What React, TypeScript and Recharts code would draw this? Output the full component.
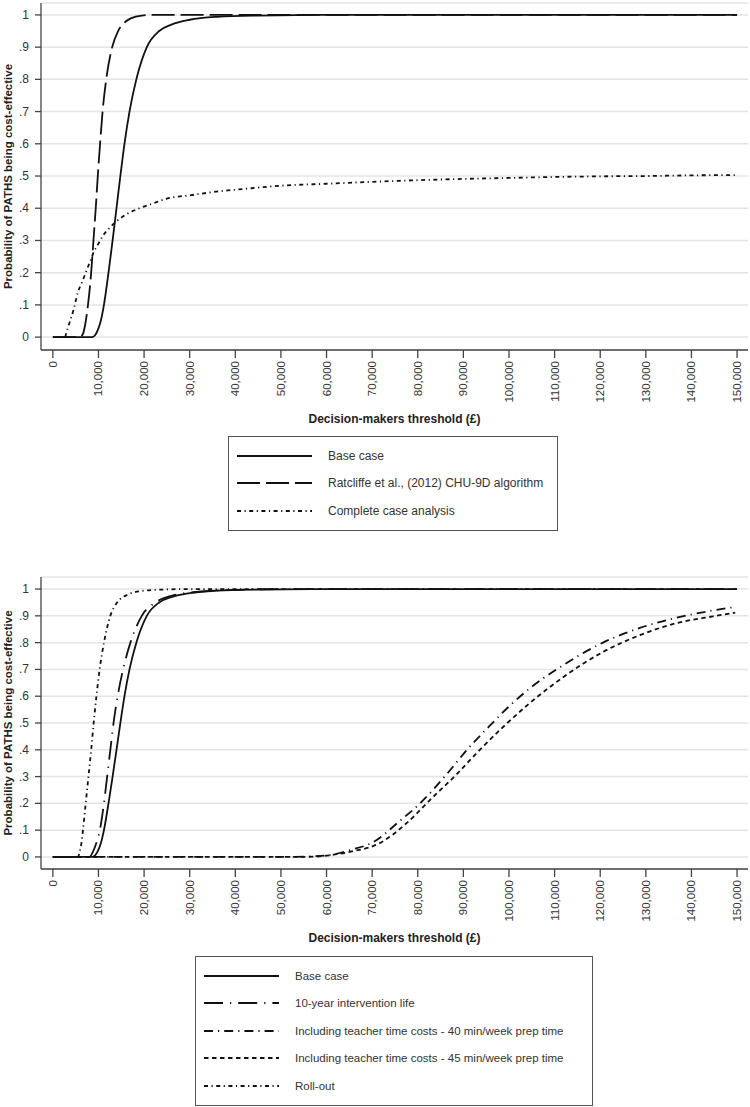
import React from "react";
import { LineChart, Line, XAxis, YAxis, CartesianGrid, Legend } from "recharts";

// threshold (£) / probability pairs
const xTicks = [0, 10000, 20000, 30000, 40000, 50000, 60000, 70000, 80000, 90000, 100000, 110000, 120000, 130000, 140000, 150000];
const yTicks = [0, 0.1, 0.2, 0.3, 0.4, 0.5, 0.6, 0.7, 0.8, 0.9, 1];

const baseCase = [
  [0, 0], [5000, 0], [8600, 0], [9200, 0.005], [9800, 0.02], [10500, 0.05], [11200, 0.1],
  [12200, 0.2], [13100, 0.3], [13950, 0.4], [14800, 0.5], [15700, 0.6], [16800, 0.7],
  [18300, 0.8], [20600, 0.9], [23300, 0.95], [26000, 0.97], [30000, 0.985],
  [36000, 0.994], [45000, 0.998], [60000, 1], [100000, 1], [150000, 1],
];
const ratcliffe = [
  [0, 0], [6000, 0], [6600, 0.01], [7100, 0.04], [7700, 0.1], [8400, 0.2], [8900, 0.3],
  [9400, 0.4], [9850, 0.5], [10350, 0.6], [10900, 0.7], [11700, 0.8], [13000, 0.9],
  [14300, 0.95], [15600, 0.975], [17200, 0.99], [19500, 0.998], [22000, 1], [150000, 1],
];
const completeCase = [
  [2700, 0], [3000, 0.015], [3700, 0.047], [4400, 0.078], [4800, 0.1], [5500, 0.14],
  [6400, 0.17], [7200, 0.2], [8300, 0.24], [9000, 0.265], [10000, 0.29], [11000, 0.315],
  [12500, 0.34], [14000, 0.36], [16000, 0.38], [19000, 0.4], [22000, 0.415], [25000, 0.43],
  [30000, 0.44], [35000, 0.45], [42000, 0.46], [50000, 0.47], [60000, 0.476], [70000, 0.482],
  [80000, 0.487], [90000, 0.491], [100000, 0.494], [110000, 0.497], [120000, 0.499],
  [130000, 0.5], [140000, 0.502], [150000, 0.503],
];
const tenYear = [
  [0, 0], [8000, 0], [8800, 0.02], [9500, 0.05], [10300, 0.1], [11200, 0.2], [11900, 0.3],
  [12600, 0.4], [13300, 0.5], [14200, 0.6], [15400, 0.7], [17000, 0.8], [19500, 0.9],
  [22500, 0.95], [26000, 0.975], [32000, 0.99], [40000, 0.997], [50000, 1], [150000, 1],
];
const teacher40 = [
  [0, 0], [50000, 0], [56000, 0.002], [60700, 0.007], [65000, 0.025], [70200, 0.055],
  [76100, 0.135], [80500, 0.2], [86400, 0.31], [90800, 0.4], [95800, 0.49], [100200, 0.565],
  [104600, 0.63], [111800, 0.715], [120600, 0.8], [128700, 0.855], [136800, 0.893],
  [144700, 0.92], [149600, 0.933],
];
const teacher45 = [
  [0, 0], [55000, 0], [60000, 0.005], [65100, 0.019], [71700, 0.052], [77600, 0.127],
  [82700, 0.213], [88600, 0.31], [93600, 0.4], [98700, 0.485], [104600, 0.575],
  [111800, 0.67], [120600, 0.765], [128700, 0.828], [136800, 0.873], [144700, 0.898],
  [149600, 0.912],
];
const rollOut = [
  [0, 0], [5500, 0], [5900, 0.02], [6250, 0.05], [6600, 0.1], [7200, 0.2], [7800, 0.3],
  [8400, 0.4], [8950, 0.5], [9550, 0.6], [10250, 0.7], [11200, 0.8], [12600, 0.9],
  [14100, 0.95], [16500, 0.98], [19500, 0.993], [24000, 0.998], [30000, 1], [150000, 1],
];

const toPts = (a: number[][]) => a.map(([x, y]) => ({ x, y }));

const FONT = "'Liberation Sans', Arial, sans-serif";
const INK = "#111";

const topSeries = [
  { name: "Base case", data: baseCase, dash: undefined },
  { name: "Ratcliffe et al., (2012) CHU-9D algorithm", data: ratcliffe, dash: "23 6" },
  { name: "Complete case analysis", data: completeCase, dash: "4 3.5 1.2 3.5" },
];
const bottomSeries = [
  { name: "Base case", data: baseCase, dash: undefined },
  { name: "10-year intervention life", data: tenYear, dash: "19 7 1.2 7" },
  { name: "Including teacher time costs - 40 min/week prep time", data: teacher40, dash: "9 5 1.2 5" },
  { name: "Including teacher time costs - 45 min/week prep time", data: teacher45, dash: "4.5 3.5" },
  { name: "Roll-out", data: rollOut, dash: "4 3.5 1.2 3.5" },
];

const yFmt = (v: number) => (v === 0 ? "0" : v === 1 ? "1" : "." + Math.round(v * 10));

const XTick = ({ x, y, payload }: any) => (
  <text
    x={x}
    y={y}
    dy={4}
    transform={`rotate(-90 ${x} ${y})`}
    textAnchor="end"
    fontSize={11.5}
    fill="#333"
    fontFamily={FONT}
  >
    {payload.value.toLocaleString("en-US")}
  </text>
);

const YTick = ({ y, payload }: any) => (
  <text x={29} y={y} dy={4} textAnchor="end" fontSize={12} fill="#333" fontFamily={FONT}>
    {yFmt(payload.value)}
  </text>
);

const LegendBox = ({ items, width, fontSize }: { items: typeof topSeries; width: number; fontSize: number }) => (
  <div
    style={{
      width,
      boxSizing: "border-box",
      border: "1.5px solid #555",
      padding: "5px 0 5px 8px",
      fontFamily: FONT,
      fontSize,
      color: "#333",
      background: "#fff",
    }}
  >
    {items.map((s) => (
      <div key={s.name} style={{ display: "flex", alignItems: "center", height: 27.5 }}>
        <svg width={75} height={4}>
          <line x1={0} y1={2} x2={75} y2={2} stroke={INK} strokeWidth={1.8} strokeDasharray={s.dash} />
        </svg>
        <span style={{ marginLeft: 16 }}>{s.name}</span>
      </div>
    ))}
  </div>
);

const CeaChart = ({
  series,
  height,
  top,
  plotBottom,
  yDomain,
  legendLeft,
  legendTop,
  legendWidth,
  legendFont,
}: any) => (
  <LineChart width={750} height={height} margin={{ top, right: 2, left: 0, bottom: 0 }}>
    <CartesianGrid vertical={false} stroke="#e4e4e4" strokeWidth={1.5} />
    <XAxis
      dataKey="x"
      type="number"
      domain={[-2600, 152400]}
      ticks={xTicks}
      interval={0}
      allowDataOverflow
      height={height - plotBottom}
      tickSize={8}
      tickMargin={3}
      stroke="#444"
      strokeWidth={1.3}
      tick={<XTick />}
      label={{
        content: ({ viewBox }: any) => (
          <text
            x={viewBox.x + viewBox.width / 2}
            y={viewBox.y + 73}
            textAnchor="middle"
            fontSize={12}
            fontWeight="bold"
            fill="#222"
            fontFamily={FONT}
          >
            Decision-makers threshold (£)
          </text>
        ),
      }}
    />
    <YAxis
      type="number"
      domain={yDomain}
      ticks={yTicks}
      interval={0}
      allowDataOverflow
      width={41}
      tickSize={6}
      stroke="#444"
      strokeWidth={1.3}
      tick={<YTick />}
      label={{
        content: ({ viewBox }: any) => {
          const cx = 12;
          const cy = viewBox.y + viewBox.height / 2;
          return (
            <text
              x={cx}
              y={cy}
              transform={`rotate(-90 ${cx} ${cy})`}
              textAnchor="middle"
              fontSize={11.5}
              fontWeight="bold"
              fill="#222"
              fontFamily={FONT}
            >
              Probability of PATHS being cost-effective
            </text>
          );
        },
      }}
    />
    {series.map((s: any) => (
      <Line
        key={s.name}
        name={s.name}
        data={toPts(s.data)}
        dataKey="y"
        type="monotone"
        stroke={INK}
        strokeWidth={1.8}
        strokeDasharray={s.dash}
        dot={false}
        activeDot={false}
        isAnimationActive={false}
      />
    ))}
    <Legend
      layout="horizontal"
      verticalAlign="middle"
      align="center"
      wrapperStyle={{ left: legendLeft, top: legendTop, width: legendWidth }}
      content={() => <LegendBox items={series} width={legendWidth} fontSize={legendFont} />}
    />
  </LineChart>
);

export default function App() {
  return (
    <div style={{ position: "absolute", left: 0, top: 0, width: 750, height: 1107, background: "#fff" }}>
      <div style={{ position: "absolute", left: 0, top: 0 }}>
        <CeaChart
          series={topSeries}
          height={540}
          top={3}
          plotBottom={350}
          yDomain={[-0.04, 1.037]}
          legendLeft={228}
          legendTop={436}
          legendWidth={330}
          legendFont={12}
        />
      </div>
      <div style={{ position: "absolute", left: 0, top: 560 }}>
        <CeaChart
          series={bottomSeries}
          height={547}
          top={17}
          plotBottom={309}
          yDomain={[-0.045, 1.045]}
          legendLeft={195}
          legendTop={396}
          legendWidth={398}
          legendFont={11.5}
        />
      </div>
    </div>
  );
}
